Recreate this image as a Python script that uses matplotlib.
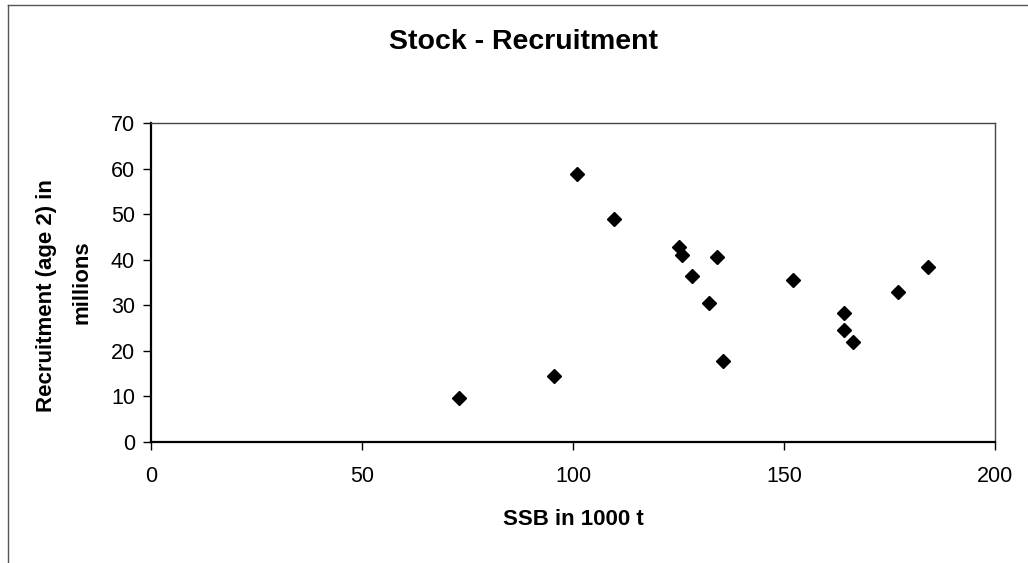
import matplotlib.pyplot as plt
from matplotlib.lines import Line2D

# -------------------------
# Data
# -------------------------
ssb = [73.0, 95.6, 100.9, 109.7, 125.2, 125.7, 134.0, 128.3, 132.3, 135.5,
       152.2, 164.2, 164.2, 166.4, 177.0, 184.2]
recruitment = [9.5, 14.4, 58.8, 48.9, 42.9, 41.0, 40.7, 36.5, 30.4, 17.7,
               35.5, 28.2, 24.5, 22.0, 33.0, 38.5]
x_ticks = [0, 50, 100, 150, 200]
y_ticks = [0, 10, 20, 30, 40, 50, 60, 70]

plt.rcParams['font.family'] = ['Liberation Sans', 'DejaVu Sans']

fig = plt.figure(figsize=(10.28, 5.63), dpi=100)
ax = fig.add_axes([0.1469, 0.2155, 0.8211, 0.5655])

ax.plot(ssb, recruitment, linestyle='none', marker='D', markersize=7,
        color='black')

ax.set_xlim(0, 200)
ax.set_ylim(0, 70)
ax.set_xticks(x_ticks)
ax.set_yticks(y_ticks)
ax.tick_params(direction='out', length=5.5, width=1, labelsize=15.5)
ax.tick_params(axis='x', pad=12)
ax.tick_params(axis='y', pad=6)
for s in ax.spines.values():
    s.set_linewidth(1)
    s.set_color('#444444')
ax.spines['bottom'].set_linewidth(1.6)
ax.spines['left'].set_linewidth(1.6)
ax.spines['bottom'].set_color('black')
ax.spines['left'].set_color('black')

ax.set_xlabel('SSB in 1000 t', fontsize=16, fontweight='bold', labelpad=16)

# y label: two centred lines, as in the original
fig.text(0.0454, 0.4742, 'Recruitment (age 2) in', rotation=90,
         ha='center', va='center', fontsize=16, fontweight='bold')
fig.text(0.0795, 0.4991, 'millions', rotation=90,
         ha='center', va='center', fontsize=16, fontweight='bold')

fig.text(0.509, 0.925, 'Stock - Recruitment', ha='center', va='center',
         fontsize=20.5, fontweight='bold')

# outer chart-area frame (left and top edges)
fig.add_artist(Line2D([0.008, 0.008], [0.0, 0.991], color='#555555', lw=1,
                      transform=fig.transFigure))
fig.add_artist(Line2D([0.008, 1.0], [0.991, 0.991], color='#555555', lw=1,
                      transform=fig.transFigure))

fig.savefig('out.png', dpi=100)
